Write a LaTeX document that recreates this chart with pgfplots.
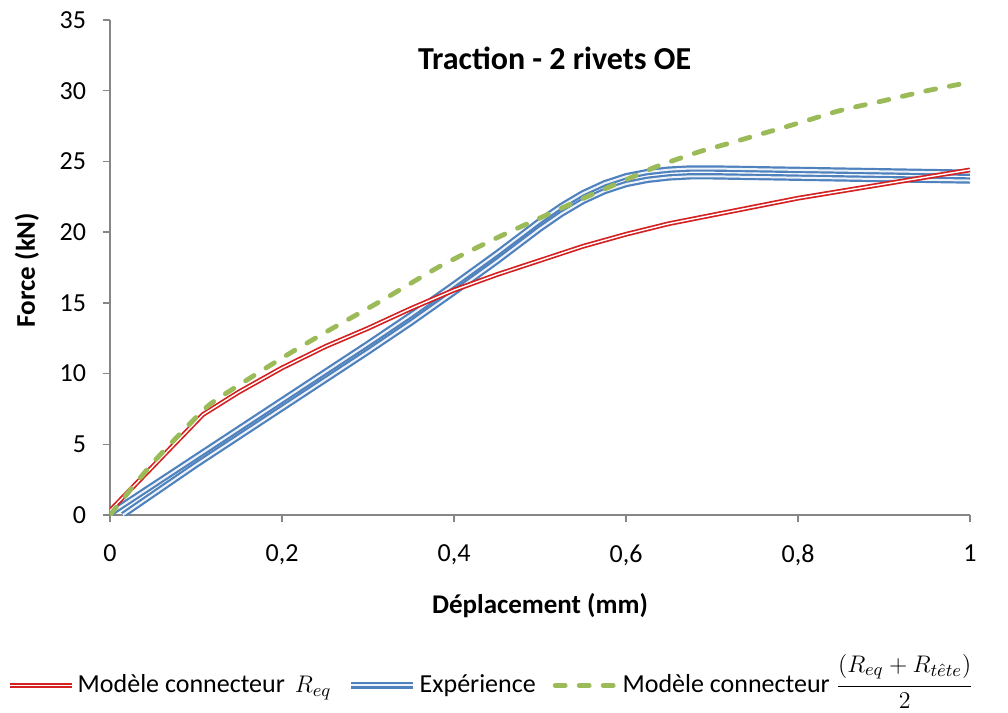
\documentclass[border=0pt]{standalone}
\usepackage{fontspec}
\setmainfont{Carlito}
\usepackage{pgfplots}
\pgfplotsset{compat=1.18}
\definecolor{cred}{RGB}{212,32,32}
\definecolor{cblue}{RGB}{79,129,189}
\definecolor{cgreen}{RGB}{155,187,89}
\definecolor{caxis}{RGB}{134,134,134}
\tikzset{
 redline/.style={draw=cred, line width=0.85pt, double=white, double distance=0.7pt, line join=round},
 blueline/.style={draw=cblue, line width=1.1pt, double=white!90!cblue, double distance=1.0pt, line join=round},
 greenline/.style={draw=cgreen, line width=2.4pt, dash pattern=on 5pt off 7pt, line cap=round, line join=round},
}
\begin{document}
\begin{tikzpicture}
\begin{axis}[
 scale only axis, width=430pt, height=247.5pt,
 xmin=0, xmax=1, ymin=0, ymax=35,
 axis lines*=left,
 axis line style={caxis, line width=0.75pt},
 xtick={0,0.2,0.4,0.6,0.8,1}, ytick={0,5,10,15,20,25,30,35},
 xticklabels={0,{0,2},{0,4},{0,6},{0,8},1},
 yticklabels={0,5,10,15,20,25,30,35},
 tick align=outside, major tick length=3.5pt,
 tick style={caxis, line width=0.75pt},
 ticklabel style={font=\fontsize{13}{15}\selectfont, text=black},
 xticklabel style={yshift=-8pt},
 yticklabel style={xshift=-5pt},
 xlabel={\textbf{Déplacement (mm)}},
 ylabel={\textbf{Force (kN)}},
 label style={font=\fontsize{13.5}{15}\selectfont},
 xlabel style={at={(axis description cs:0.5,-0.184)}, anchor=center},
 ylabel style={at={(axis description cs:-0.0965,0.495)}, anchor=center},
 legend columns=3,
 legend cell align=left,
 legend image code/.code={\draw[#1] (0pt,3.6pt) -- (31pt,3.6pt);},
 legend style={at={(axis description cs:0.4445,-0.323)}, anchor=center, draw=none,
   font=\fontsize{13}{15}\selectfont, inner sep=0pt,
   cells={anchor=base west}, nodes={inner sep=1.5pt},
   /tikz/every even column/.append style={column sep=7pt}},
]
% Experience (two tests)
\addplot[blueline, forget plot] coordinates {
(0.015,0) (0.1,3.55) (0.2,7.55) (0.3,11.55) (0.35,13.6) (0.4,15.75) (0.45,17.95) (0.5,20.25) (0.525,21.3) (0.55,22.2) (0.575,22.9) (0.6,23.4) (0.625,23.7) (0.65,23.87) (0.675,23.95) (0.7,23.95) (0.8,23.85) (0.9,23.75) (1,23.65)};
\addplot[blueline, forget plot] coordinates {
(0,0.1) (0.1,4.1) (0.2,8.1) (0.3,12.1) (0.35,14.15) (0.4,16.3) (0.45,18.5) (0.5,20.8) (0.525,21.85) (0.55,22.75) (0.575,23.45) (0.6,23.95) (0.625,24.25) (0.65,24.42) (0.675,24.5) (0.7,24.5) (0.8,24.4) (0.9,24.3) (1,24.2)};
% Modele R_eq
\addplot[redline, forget plot] coordinates {
(0,0.3) (0.108,7.1) (0.15,8.7) (0.2,10.4) (0.25,11.9) (0.3,13.2) (0.35,14.6) (0.4,15.9) (0.45,17.0) (0.5,18.0) (0.55,19.0) (0.6,19.85) (0.65,20.6) (0.7,21.2) (0.75,21.8) (0.8,22.4) (0.85,22.9) (0.9,23.4) (0.95,23.9) (1,24.4)};
% Modele (Req+Rtete)/2
\addplot[greenline, forget plot, smooth, tension=0.4] coordinates {
(0,0) (0.05,3.7) (0.11,7.5) (0.14,8.8) (0.2,11.1) (0.25,12.9) (0.317,15.2) (0.384,17.6) (0.45,19.6) (0.5,21.0) (0.558,22.6) (0.6,23.7) (0.636,24.65) (0.686,25.7) (0.721,26.3) (0.8,27.7) (0.849,28.6) (0.9,29.3) (0.95,30.0) (1,30.6)};
\addlegendimage{redline}
\addlegendentry{Modèle connecteur\hspace{5pt}$R_{eq}$}
\addlegendimage{blueline}
\addlegendentry{Expérience}
\addlegendimage{greenline}
\addlegendentry{Modèle connecteur\hspace{3pt}${\displaystyle\frac{\raisebox{2pt}{$\bigl(R_{eq}+R_{t\hat{e}te}\bigr)$}}{2}}$}
\node[font=\bfseries\fontsize{16}{18}\selectfont] at (axis cs:0.517,32.3) {Traction - 2 rivets OE};
\end{axis}
\pgfresetboundingbox
\path (-55pt,-99pt) rectangle (449pt,257.5pt);
\end{tikzpicture}
\end{document}
